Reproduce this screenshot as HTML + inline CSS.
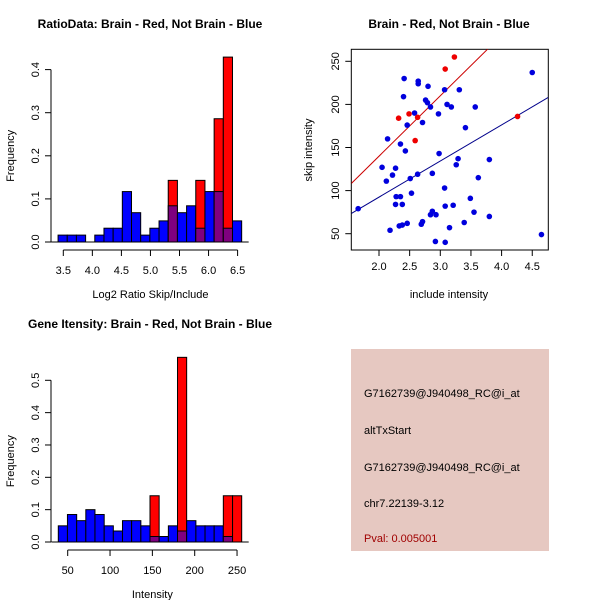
<!DOCTYPE html>
<html><head><meta charset="utf-8"><style>
body{margin:0;background:#fff}
svg{display:block;font-family:"Liberation Sans",Arial,sans-serif}
.t{font-weight:bold;font-size:12px}
.l{font-size:11px}
</style></head><body>
<svg id="s" width="600" height="600" viewBox="0 0 600 600"></svg>
<script>
// Panel 1 data: ratio histogram
const ratioEdges=[3.41,3.568,3.726,3.884,4.042,4.2,4.358,4.516,4.674,4.832,4.99,5.148,5.306,5.464,5.622,5.78,5.938,6.096,6.254,6.412,6.57];
const ratioBlue=[0.016,0.016,0.016,0,0.016,0.032,0.032,0.117,0.068,0.016,0.032,0.049,0.084,0.068,0.084,0.032,0.117,0.117,0.032,0.049];
const ratioRed=[0,0,0,0,0,0,0,0,0,0,0,0,0.143,0,0,0.143,0,0.286,0.429,0];
const ratioXTicks=[3.5,4.0,4.5,5.0,5.5,6.0,6.5];
const ratioYTicks=[0,0.1,0.2,0.3,0.4];
// Panel 2 data: scatter
const blueX=[1.66,2.05,2.14,2.12,2.18,2.22,2.27,2.27,2.28,2.35,2.38,2.33,2.38,2.46,2.35,2.43,2.41,2.40,2.46,2.51,2.53,2.58,2.63,2.64,2.64,2.71,2.69,2.71,2.76,2.79,2.80,2.84,2.84,2.87,2.87,2.93,2.92,2.97,2.98,3.07,3.07,3.08,3.08,3.11,3.15,3.18,3.21,3.26,3.29,3.31,3.39,3.41,3.49,3.55,3.57,3.62,3.80,3.80,4.50,4.65];
const blueY=[79,127,160,111,54,118,126,84,93,93,84,59,60,62,154,146,230,209,176,114,97,190,119,227,224,179,61,64,205,202,221,197,72,76,120,72,41,189,143,217,103,82,40,200,57,197,83,130,137,217,63,173,91,75,197,115,136,70,237,49];
const redX=[2.32,2.49,2.59,2.63,3.08,3.23,4.26];
const redY=[184,189,158,185,241,255,186];
const redFit=[-0.3,70.1];
const blueFit=[8.6,41.9];
const scXTicks=[2.0,2.5,3.0,3.5,4.0,4.5];
const scYTicks=[50,100,150,200,250];
// Panel 3 data: intensity histogram
const intEdges=[38.9,49.7,60.6,71.4,82.2,93.1,103.9,114.7,125.5,136.4,147.2,158.0,168.9,179.7,190.5,201.4,212.2,223.0,233.8,244.7,255.5];
const intBlue=[0.05,0.085,0.066,0.1,0.085,0.05,0.034,0.066,0.066,0.05,0.017,0.017,0.05,0.034,0.066,0.05,0.05,0.05,0.017,0];
const intRed=[0,0,0,0,0,0,0,0,0,0,0.143,0,0,0.571,0,0,0,0,0.143,0.143];
const intXTicks=[50,100,150,200,250];
const intYTicks=[0,0.1,0.2,0.3,0.4,0.5];

const S=document.getElementById('s');
const NS='http://www.w3.org/2000/svg';
function mk(tag,a,parent){const e=document.createElementNS(NS,tag);for(const k in a)e.setAttribute(k,a[k]);(parent||S).appendChild(e);return e;}
function txt(s,x,y,cls,extra,parent){const e=mk('text',Object.assign({x:x,y:y,'text-anchor':'middle','class':cls||'l'},extra||{}),parent);e.textContent=s;return e;}

function hist(name,edges,blue,red,xt,yt,X,Y,yx,xay,xlab,fmtY,fmtX){
  const g=mk('g',{});
  
  
  for(let i=0;i<blue.length;i++){
    const x0=X(edges[i]),x1=X(edges[i+1]);
    if(red[i]>0){const r=mk('rect',{x:x0,y:Y(red[i]),width:x1-x0,height:Y(0)-Y(red[i]),fill:'#ff0000',stroke:'#000','stroke-width':1},g);
      }
    if(blue[i]>0){const b=mk('rect',{x:x0,y:Y(blue[i]),width:x1-x0,height:Y(0)-Y(blue[i]),fill:(red[i]>0?'#7f007f':'#0000ff'),stroke:'#000','stroke-width':1},g);
      }
  }
  mk('line',{x1:X(edges[0])-7,x2:X(edges[edges.length-1])+7,y1:Y(0),y2:Y(0),stroke:'#000'},g);
  mk('line',{x1:yx,x2:yx,y1:Y(yt[0]),y2:Y(yt[yt.length-1]),stroke:'#000'},g);
  yt.forEach(v=>{mk('line',{x1:yx-6,x2:yx,y1:Y(v),y2:Y(v),stroke:'#000'},g);
    txt(fmtY(v),yx-12,Y(v),'l',{transform:`rotate(-90 ${yx-12} ${Y(v)})`},g);});
  mk('line',{x1:X(xt[0]),x2:X(xt[xt.length-1]),y1:xay,y2:xay,stroke:'#000'},g);
  xt.forEach(v=>{mk('line',{x1:X(v),x2:X(v),y1:xay,y2:xay+6,stroke:'#000'},g);
    txt(fmtX(v),X(v),xay+24,'l',{},g);});
  const my=(Y(yt[0])+Y(yt[yt.length-1]))/2;
  const ya=txt('Frequency',14,my,'l',{transform:`rotate(-90 14 ${my})`},g);
  
  const xl=txt(xlab,X((xt[0]+xt[xt.length-1])/2),xay+48,'l',{},g);
  
}
// Panel 1
const X1=v=>63.3+(v-3.5)*58.1, Y1=v=>242-v*431;
hist('ratio-histogram',ratioEdges,ratioBlue,ratioRed,ratioXTicks,ratioYTicks,X1,Y1,51,250,'Log2 Ratio Skip/Include',v=>v.toFixed(1),v=>v.toFixed(1));
const t1=txt('RatioData: Brain - Red, Not Brain - Blue',150,28,'t');

// Panel 3
const X3=v=>67.7+(v-50)*0.8467, Y3=v=>542-v*323.4;
hist('intensity-histogram',intEdges,intBlue,intRed,intXTicks,intYTicks,X3,Y3,51,550,'Intensity',v=>v.toFixed(1),v=>String(v));
const t3=txt('Gene Itensity: Brain - Red, Not Brain - Blue',150,328,'t');


// Panel 2 scatter
const X2=v=>379+(v-2)*61.3, Y2=v=>233.7-(v-50)*0.862;
const g2=mk('g',{});


const cp=mk('clipPath',{id:'cp'},g2);mk('rect',{x:351.3,y:49.3,width:197,height:200.7},cp);
mk('rect',{x:351.3,y:49.3,width:197,height:200.7,fill:'none',stroke:'#000'},g2);
const xmin=1.55,xmax=4.76;
const rl=mk('line',{x1:X2(xmin),y1:Y2(redFit[0]+redFit[1]*xmin),x2:X2(xmax),y2:Y2(redFit[0]+redFit[1]*xmax),stroke:'#cc0000','clip-path':'url(#cp)'},g2);

const bl=mk('line',{x1:X2(xmin),y1:Y2(blueFit[0]+blueFit[1]*xmin),x2:X2(xmax),y2:Y2(blueFit[0]+blueFit[1]*xmax),stroke:'#00008b','clip-path':'url(#cp)'},g2);

blueX.forEach((x,i)=>{const c=mk('circle',{cx:X2(x),cy:Y2(blueY[i]),r:2.8,fill:'#0000dd'},g2);
  });
redX.forEach((x,i)=>{const c=mk('circle',{cx:X2(x),cy:Y2(redY[i]),r:2.8,fill:'#ee0000'},g2);
  });
scXTicks.forEach(v=>{mk('line',{x1:X2(v),x2:X2(v),y1:250,y2:256,stroke:'#000'},g2);txt(v.toFixed(1),X2(v),270,'l',{},g2);});
scYTicks.forEach(v=>{mk('line',{x1:345.3,x2:351.3,y1:Y2(v),y2:Y2(v),stroke:'#000'},g2);txt(String(v),339,Y2(v),'l',{transform:`rotate(-90 339 ${Y2(v)})`},g2);});
const sx=txt('include intensity',449,298,'l',{},g2);
const sy=txt('skip intensity',312,150,'l',{transform:'rotate(-90 312 150)'},g2);
const t2=txt('Brain - Red, Not Brain - Blue',449,28,'t',{},g2);

// Panel 4 info box
const g4=mk('g',{});


mk('rect',{x:351,y:349,width:198,height:202,fill:'#e6c8c1'},g4);
const lines=['G7162739@J940498_RC@i_at','altTxStart','G7162739@J940498_RC@i_at','chr7.22139-3.12'];
const ys=[397,434,471,507];
lines.forEach((s,i)=>{const e=txt(s,364,ys[i],'l',{'text-anchor':'start'},g4);
  });
const pv=txt('Pval: 0.005001',364,542,'l',{'text-anchor':'start',fill:'#a00000'},g4);

</script>
</body></html>
